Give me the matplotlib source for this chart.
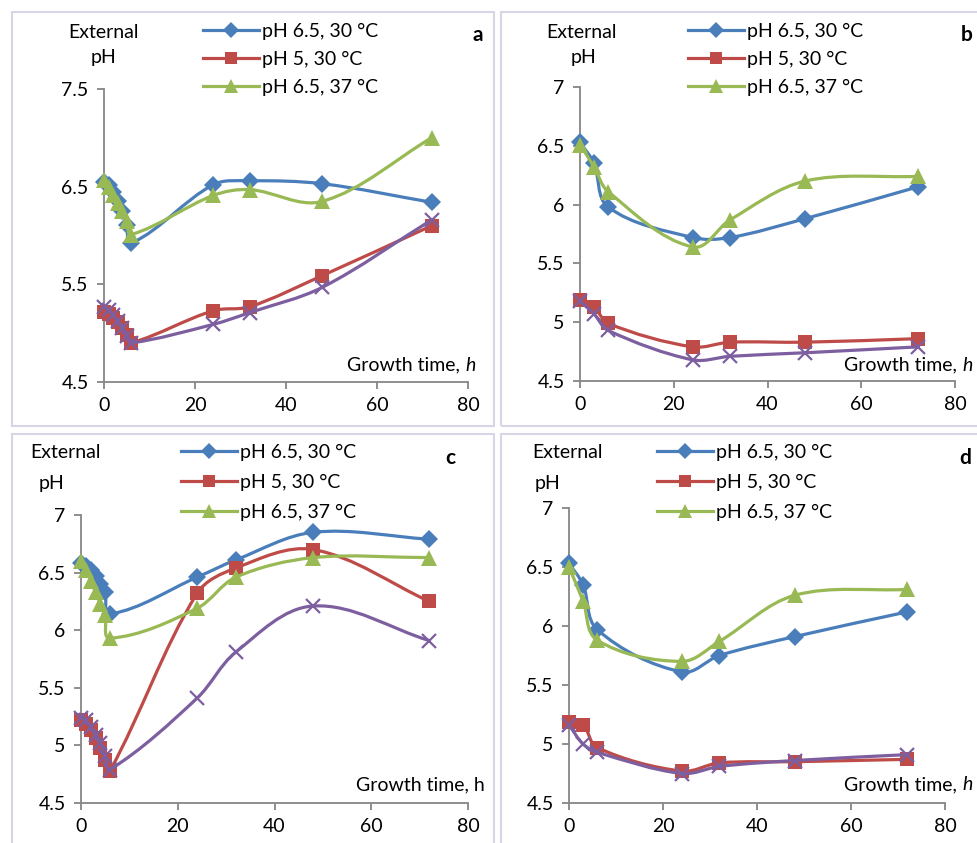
"""Four-panel external pH vs growth time chart (Excel style, smoothed lines)."""

import math
import matplotlib
matplotlib.use("Agg")
import matplotlib.pyplot as plt
from matplotlib.path import Path
from matplotlib.patches import PathPatch, Rectangle
from matplotlib.lines import Line2D

W, H = 977, 843

# ---- data -------------------------------------------------------------
t_dense = [0, 1, 2, 3, 4, 5, 6, 24, 32, 48, 72]
t_sparse = [0, 3, 6, 24, 32, 48, 72]

a_blue = [6.55, 6.52, 6.45, 6.35, 6.25, 6.11, 5.92, 6.52, 6.56, 6.53, 6.34]
a_red = [5.22, 5.2, 5.16, 5.11, 5.05, 4.98, 4.9, 5.23, 5.27, 5.59, 6.1]
a_green = [6.57, 6.5, 6.41, 6.33, 6.25, 6.15, 6.01, 6.41, 6.47, 6.35, 7.0]
a_purple = [5.27, 5.24, 5.19, 5.12, 5.05, 4.97, 4.9, 5.09, 5.21, 5.47, 6.16]

b_blue = [6.53, 6.35, 5.98, 5.72, 5.72, 5.88, 6.15]
b_red = [5.19, 5.13, 4.99, 4.79, 4.83, 4.83, 4.86]
b_green = [6.51, 6.32, 6.11, 5.64, 5.87, 6.2, 6.24]
b_purple = [5.18, 5.07, 4.93, 4.68, 4.71, 4.74, 4.79]

c_blue = [6.58, 6.56, 6.52, 6.47, 6.4, 6.33, 6.14, 6.46, 6.61, 6.85, 6.79]
c_red = [5.22, 5.19, 5.13, 5.06, 4.98, 4.87, 4.78, 6.32, 6.54, 6.7, 6.25]
c_green = [6.6, 6.52, 6.43, 6.33, 6.23, 6.13, 5.93, 6.19, 6.46, 6.63, 6.63]
c_purple = [5.24, 5.22, 5.16, 5.09, 5.02, 4.91, 4.79, 5.41, 5.81, 6.21, 5.91]

d_blue = [6.53, 6.35, 5.97, 5.61, 5.75, 5.91, 6.12]
d_red = [5.19, 5.16, 4.97, 4.77, 4.84, 4.85, 4.87]
d_green = [6.5, 6.21, 5.88, 5.7, 5.87, 6.26, 6.31]
d_purple = [5.16, 5.0, 4.93, 4.75, 4.81, 4.86, 4.91]

legend_labels = ["pH 6.5, 30 °C", "pH 5, 30 °C", "pH 6.5, 37 °C"]

BLUE, RED, GREEN, PURPLE = "#4A7EBB", "#BE4B48", "#98B954", "#7D5FA0"
GRAY = "#868686"
FS = 14

plt.rcParams["font.family"] = ["Lato", "DejaVu Sans"]


def px_axes(fig, left, top, right, bottom):
    return fig.add_axes([left / W, 1 - bottom / H, (right - left) / W, (bottom - top) / H])


def smooth_line(ax, xs, ys, color, z, sx, sy):
    # Excel-like smoothed line: cubic Bezier segments, tangents worked out in
    # pixel space (sx, sy = pixels per data unit) and scaled by segment length
    n = len(xs)
    P = [(x * sx, y * sy) for x, y in zip(xs, ys)]
    seg = [math.hypot(P[i + 1][0] - P[i][0], P[i + 1][1] - P[i][1]) for i in range(n - 1)]
    dirs = []
    for i in range(n):
        a = P[max(i - 1, 0)]
        b = P[min(i + 1, n - 1)]
        dx, dy = b[0] - a[0], b[1] - a[1]
        L = math.hypot(dx, dy) or 1.0
        dirs.append((dx / L, dy / L))
    verts = [P[0]]
    codes = [Path.MOVETO]
    for i in range(n - 1):
        k = seg[i] / 3.0
        c1 = (P[i][0] + dirs[i][0] * k, P[i][1] + dirs[i][1] * k)
        c2 = (P[i + 1][0] - dirs[i + 1][0] * k, P[i + 1][1] - dirs[i + 1][1] * k)
        verts += [c1, c2, P[i + 1]]
        codes += [Path.CURVE4] * 3
    verts = [(vx / sx, vy / sy) for vx, vy in verts]
    patch = PathPatch(Path(verts, codes), facecolor="none", edgecolor=color,
                      lw=2.3, zorder=z, capstyle="round", joinstyle="round")
    ax.add_patch(patch)


STYLES = [
    dict(color=BLUE, marker="D", ms=9.5, mew=0),
    dict(color=RED, marker="s", ms=10.5, mew=0),
    dict(color=GREEN, marker="^", ms=11.5, mew=0),
    dict(color=PURPLE, marker="x", ms=10.5, mew=1.6),
]


def panel(fig, box, axbox, t, series, yticks, letter, italic_h, ext_xy, leg_xy,
          letter_xy, gt_xy, spacing):
    # light panel border
    l, tp, r, b = box
    fig.patches.append(Rectangle((l / W, 1 - b / H), (r - l) / W, (b - tp) / H,
                                 transform=fig.transFigure, fill=False,
                                 edgecolor="#DAD5E6", lw=1.5))
    ax = px_axes(fig, *axbox)
    ax.set_xlim(0, 80)
    ax.set_ylim(yticks[0], yticks[-1])
    ax.set_xticks([0, 20, 40, 60, 80])
    ax.set_yticks(yticks)
    ax.set_yticklabels([("%g" % v) for v in yticks])
    ax.patch.set_visible(False)
    for s in ["top", "right"]:
        ax.spines[s].set_visible(False)
    for s in ["left", "bottom"]:
        ax.spines[s].set_color(GRAY)
        ax.spines[s].set_linewidth(1.3)
    ax.tick_params(direction="out", length=5, width=1.3, color=GRAY,
                   labelsize=FS, pad=6)

    sx = (axbox[2] - axbox[0]) / 80.0
    sy = (axbox[3] - axbox[1]) / (yticks[-1] - yticks[0])
    for k, (ys, st) in enumerate(zip(series, STYLES)):
        smooth_line(ax, t, ys, st["color"], 3 + 2 * k, sx, sy)
        ax.plot(t, ys, linestyle="none", marker=st["marker"], ms=st["ms"],
                color=st["color"], mew=st["mew"], zorder=4 + 2 * k, clip_on=False)

    handles = [Line2D([], [], color=st["color"], lw=2.3, marker=st["marker"],
                      ms=st["ms"] * 0.85, mew=0) for st in STYLES[:3]]
    ax.legend(handles, legend_labels, loc="upper left",
              bbox_to_anchor=(leg_xy[0] / W, 1 - leg_xy[1] / H),
              bbox_transform=fig.transFigure, frameon=False, fontsize=FS,
              handlelength=2.9, handletextpad=0.15, labelspacing=spacing,
              borderpad=0, borderaxespad=0, markerscale=1)

    fig.text(ext_xy[0] / W, 1 - ext_xy[3] / H, "External", ha="center", va="center",
             fontsize=FS)
    fig.text(ext_xy[2] / W, 1 - ext_xy[1] / H, "pH", ha="center", va="center", fontsize=FS)
    fig.text(letter_xy[0] / W, 1 - letter_xy[1] / H, letter, ha="center", va="center",
             fontsize=FS + 1, fontweight="bold")
    if italic_h:
        fig.text(gt_xy[0] / W, 1 - gt_xy[1] / H, "Growth time, ", ha="right", va="center",
                 fontsize=FS)
        fig.text(gt_xy[0] / W, 1 - gt_xy[1] / H, "h", ha="left", va="center",
                 fontsize=FS, style="italic")
    else:
        fig.text((gt_xy[0] + 9) / W, 1 - gt_xy[1] / H, "Growth time, h", ha="right",
                 va="center", fontsize=FS)
    return ax


def main():
    fig = plt.figure(figsize=(W / 100, H / 100), dpi=100)

    panel(fig, (12, 12, 494, 426), (104, 89, 468, 382), t_dense,
          [a_blue, a_red, a_green, a_purple], [4.5, 5.5, 6.5, 7.5], "a", True,
          (103, 58, 103, 32), (203, 23), (478, 35), (465, 365), 0.55)
    panel(fig, (501, 12, 990, 426), (580, 87, 955, 381), t_sparse,
          [b_blue, b_red, b_green, b_purple], [4.5, 5, 5.5, 6, 6.5, 7], "b", True,
          (582, 58, 583, 32), (688, 23), (967, 35), (962, 365), 0.55)
    panel(fig, (12, 434, 494, 860), (81, 515, 468, 803), t_dense,
          [c_blue, c_red, c_green, c_purple], [4.5, 5, 5.5, 6, 6.5, 7], "c", False,
          (66, 483, 52, 452), (181, 444), (450, 458), (476, 785), 0.65)
    panel(fig, (501, 434, 990, 860), (569, 508, 945, 803), t_sparse,
          [d_blue, d_red, d_green, d_purple], [4.5, 5, 5.5, 6, 6.5, 7], "d", True,
          (567, 483, 548, 452), (657, 444), (965, 458), (962, 785), 0.65)

    fig.savefig("out.png", dpi=100)


if __name__ == "__main__":
    main()
